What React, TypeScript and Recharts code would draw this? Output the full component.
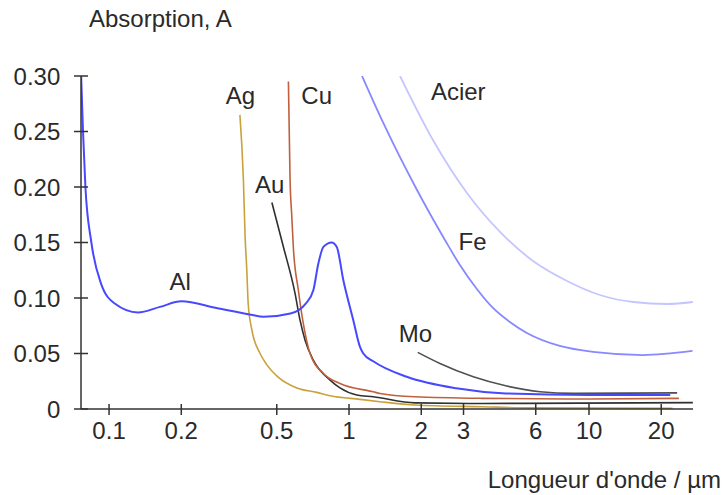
import React from 'react';
import { LineChart, Line, XAxis, YAxis, ReferenceDot } from 'recharts';

// Wavelength (µm) / absorption pairs
const alPoints = [
  [0.0765, 0.3], [0.0779, 0.25], [0.0797, 0.2], [0.0844, 0.15], [0.0926, 0.113], [0.1056, 0.095],
  [0.132, 0.087], [0.163, 0.092], [0.2, 0.097], [0.28, 0.091], [0.39, 0.085], [0.44, 0.083],
  [0.57, 0.086], [0.66, 0.095], [0.71, 0.107], [0.745, 0.131], [0.782, 0.146], [0.847, 0.15],
  [0.889, 0.146], [0.947, 0.116], [1.042, 0.08], [1.111, 0.056], [1.147, 0.05], [1.262, 0.043],
  [1.74, 0.029], [2.8, 0.0186], [4.5, 0.014], [10, 0.0126], [21.8, 0.0126],
];
const agPoints = [
  [0.351, 0.265], [0.363, 0.206], [0.369, 0.155], [0.375, 0.125], [0.38, 0.095], [0.393, 0.072],
  [0.426, 0.05], [0.454, 0.04], [0.505, 0.029], [0.606, 0.019], [0.733, 0.015], [0.834, 0.012],
  [1.111, 0.0087], [1.346, 0.0066], [1.884, 0.0036], [3.6, 0.002], [5.86, 0.001], [22.3, 0.0006],
];
const auPoints = [
  [0.477, 0.186], [0.533, 0.146], [0.596, 0.104], [0.625, 0.08], [0.656, 0.062], [0.71, 0.044],
  [0.834, 0.026], [0.917, 0.019], [1.077, 0.0126], [1.262, 0.011], [1.884, 0.0055], [3.6, 0.005],
  [27.1, 0.0057],
];
const cuPoints = [
  [0.559, 0.295], [0.568, 0.206], [0.577, 0.175], [0.586, 0.146], [0.615, 0.107], [0.645, 0.077],
  [0.688, 0.05], [0.782, 0.032], [0.917, 0.023], [1.262, 0.0155], [1.346, 0.014], [1.884, 0.011],
  [3.6, 0.0096], [10.1, 0.009], [23.7, 0.0096],
];
const moPoints = [
  [1.933, 0.051], [2.393, 0.041], [3.296, 0.029], [4.54, 0.0207], [6.25, 0.0156], [8.6, 0.0141],
  [23.3, 0.0145],
];
const fePoints = [
  [1.133, 0.3], [1.383, 0.2586], [1.92, 0.1973], [2.51, 0.1523], [2.898, 0.1297], [3.41, 0.1081],
  [3.98, 0.091], [4.68, 0.0784], [5.51, 0.0685], [7.56, 0.0568], [10.4, 0.0514], [16.8, 0.0486],
  [27.0, 0.0523],
];
const acierPoints = [
  [1.631, 0.3], [2.238, 0.2423], [3.1, 0.1946], [4.26, 0.1595], [5.85, 0.1333], [8.1, 0.1153],
  [11.1, 0.1027], [15.3, 0.0964], [21.2, 0.0946], [27.1, 0.0964],
];

const xTicks = [0.1, 0.2, 0.5, 1, 2, 3, 6, 10, 20];
const yTicks = [0, 0.05, 0.1, 0.15, 0.2, 0.25, 0.3];

// Curve name labels, anchored in data coordinates (wavelength, absorption)
const labelNames = ['Ag', 'Cu', 'Au', 'Al', 'Acier', 'Fe', 'Mo'];
const labelX = [0.353, 0.733, 0.467, 0.198, 2.853, 3.27, 1.892];
const labelY = [0.2824, 0.2824, 0.2023, 0.1149, 0.286, 0.1509, 0.0683];

const toData = (pts: number[][]) => pts.map(([x, y]) => ({ x, y }));

const series = [
  { name: 'Acier', data: toData(acierPoints), color: '#c6c6ff', width: 1.8 },
  { name: 'Fe', data: toData(fePoints), color: '#8888ff', width: 1.8 },
  { name: 'Ag', data: toData(agPoints), color: '#c9a23c', width: 1.6 },
  { name: 'Au', data: toData(auPoints), color: '#303030', width: 1.6 },
  { name: 'Cu', data: toData(cuPoints), color: '#c0603e', width: 1.6 },
  { name: 'Al', data: toData(alPoints), color: '#4848ff', width: 2 },
  { name: 'Mo', data: toData(moPoints), color: '#505050', width: 1.6 },
];

const FONT = '"Liberation Sans", Arial, Helvetica, sans-serif';
const TEXT = '#2a2a2a';
const AXIS = '#333333';

const XTick = (props: any) => {
  const { x, y, payload } = props;
  return (
    <g>
      <line x1={x} x2={x} y1={y - 18} y2={y - 7} stroke={AXIS} strokeWidth={1.5} />
      <text x={x} y={y} dy="0.71em" textAnchor="middle" fontSize={24} fill={TEXT} fontFamily={FONT}>
        {String(payload.value)}
      </text>
    </g>
  );
};

const YTick = (props: any) => {
  const { x, y, payload } = props;
  const v = payload.value as number;
  return (
    <g>
      <line x1={x + 13.7} x2={x + 27.7} y1={y} y2={y} stroke={AXIS} strokeWidth={1.5} />
      <text x={x} y={y} dy="0.355em" textAnchor="end" fontSize={24} fill={TEXT} fontFamily={FONT}>
        {v === 0 ? '0' : v.toFixed(2)}
      </text>
    </g>
  );
};

export default function App() {
  return (
    <div style={{ position: 'absolute', left: 0, top: 0, width: 723, height: 495, background: '#fff' }}>
      <LineChart width={723} height={495} margin={{ top: 76, right: 30, bottom: 0, left: 1 }}>
        <XAxis
          type="number"
          dataKey="x"
          scale="log"
          domain={[0.0764, 27.13]}
          allowDataOverflow
          ticks={xTicks}
          interval={0}
          tickSize={6}
          tickMargin={7}
          tickLine={false}
          tick={<XTick />}
          axisLine={{ stroke: AXIS, strokeWidth: 1.5 }}
          height={86}
        />
        <YAxis
          type="number"
          dataKey="y"
          domain={[0, 0.3]}
          allowDataOverflow
          ticks={yTicks}
          interval={0}
          tickSize={7}
          tickMargin={13.7}
          tickLine={false}
          tick={<YTick />}
          axisLine={{ stroke: AXIS, strokeWidth: 1.5 }}
          width={80}
        />
        {series.map((s) => (
          <Line
            key={s.name}
            data={s.data}
            dataKey="y"
            type="monotone"
            stroke={s.color}
            strokeWidth={s.width}
            dot={false}
            activeDot={false}
            isAnimationActive={false}
          />
        ))}
        {labelNames.map((name, i) => (
          <ReferenceDot
            key={name}
            x={labelX[i]}
            y={labelY[i]}
            r={0}
            fill="none"
            stroke="none"
            ifOverflow="visible"
            label={{ value: name, position: 'center', fontSize: 24, fill: TEXT, fontFamily: FONT }}
          />
        ))}
        <text x={89} y={27} fontSize={24} fill={TEXT} fontFamily={FONT}>
          Absorption, A
        </text>
        <text x={721} y={488} textAnchor="end" fontSize={24} fill={TEXT} fontFamily={FONT}>
          Longueur d'onde / µm
        </text>
      </LineChart>
    </div>
  );
}
